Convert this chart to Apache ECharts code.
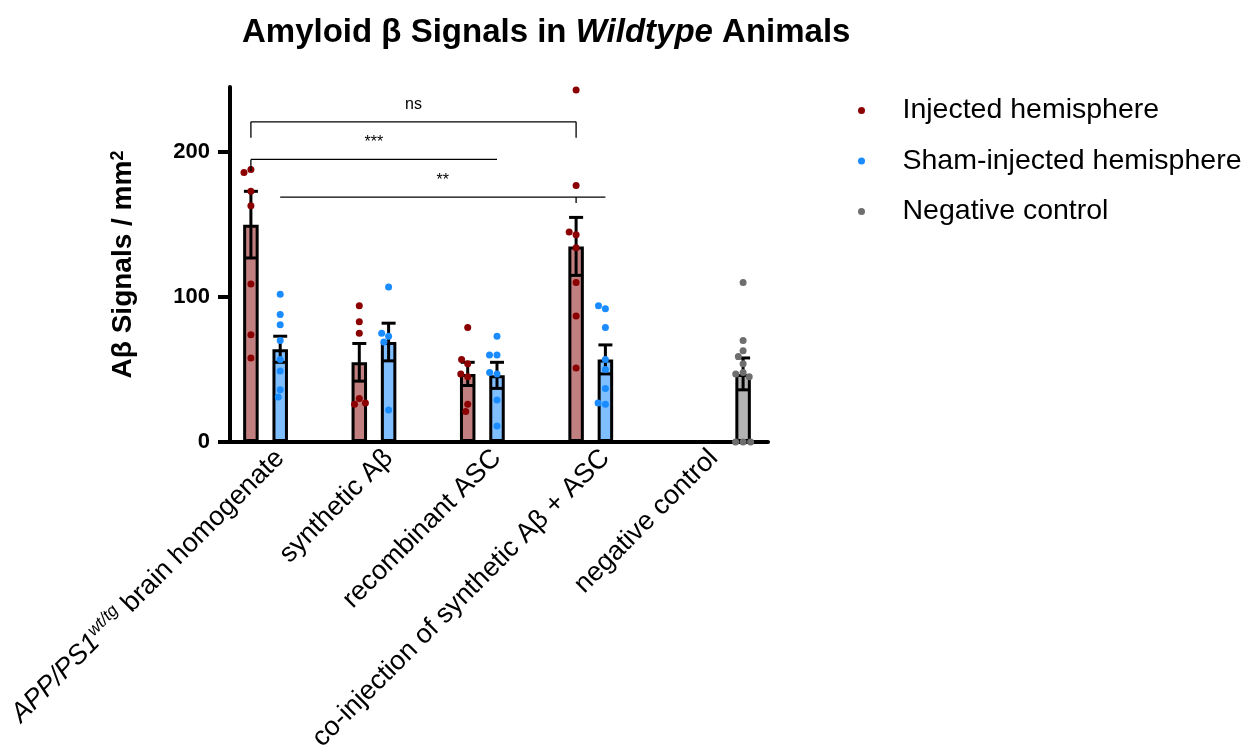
<!DOCTYPE html>
<html>
<head>
<meta charset="utf-8">
<script src="https://cdn.jsdelivr.net/npm/echarts@6.0.0/dist/echarts.min.js"></script>
<style>
    html, body { margin: 0; padding: 0; background: #fff; }
    #chart { width: 1252px; height: 753px; }
</style>
</head>
<body>
<div id="chart"></div>
<script>
// 组别（x轴）
const groups = ['APP/PS1 brain homogenate', 'synthetic Aβ', 'recombinant ASC', 'co-injection of synthetic Aβ + ASC', 'negative control'];
const seriesNames = ['Injected hemisphere', 'Sham-injected hemisphere', 'Negative control'];

// 均值 / SEM
const injectedMean = [150, 55, 47, 135, null];
const injectedSem = [23, 13, 8, 20, null];
const shamMean = [64, 69, 46, 57, null];
const shamSem = [9, 13, 9, 10, null];
const negMean = [null, null, null, null, 47];
const negSem = [null, null, null, null, 11];

// 单个动物的点
const injectedPts = [
    [188, 186, 173, 163, 109, 74, 58],
    [94, 83, 75, 30, 26, 27],
    [79, 54, 57, 45, 47, 26, 21],
    [243, 177, 143, 145, 134, 110, 87, 51],
    []
];
const shamPts = [
    [102, 88, 81, 70, 57, 49, 36, 31],
    [107, 73, 75, 69, 22],
    [73, 60, 60, 47, 48, 29, 11],
    [92, 94, 79, 57, 50, 37, 26, 27],
    []
];
const negPts = [[], [], [], [], [110, 70, 63, 59, 54, 48, 47, 45, 0, 0, 0]];

// y轴
const yMax = 245;
const yTicks = [0, 100, 200];

// 显著性标注: 槽位 -1=injected, 0=sham, 1=negative
const bracketLabel = ['ns', '***', '**'];
const bracketY = [221, 195, 169];
const bracketFrom = [[0, -1], [0, -1], [0, 0]];
const bracketTo = [[3, -1], [2, 0], [3, 0]];
const bracketTicks = [[[0, -1], [3, -1]], [[0, -1]], [[3, -1]]];
const bracketTickEnd = [210, 187, 165];

const FONT = '"Liberation Sans", Arial, sans-serif';
const GRID_LEFT = 226, GRID_W = 542, GRID_TOP = 87, GRID_H = 355;
const SLOT = 29.3;
const fills = ['#c27f7f', '#80bfff', '#b3b3b3'];
const dots = ['#8b0000', '#1a8cff', '#6e6e6e'];

let chart = echarts.init(document.getElementById('chart'));

function toPoints(arr) {
    let pts = [];
    arr.forEach(function (vals, i) {
        vals.forEach(function (v) { pts.push([i, v]); });
    });
    return pts;
}

function toErr(mean, sem) {
    let out = [];
    mean.forEach(function (m, i) {
        if (m !== null) out.push([i, m, sem[i]]);
    });
    return out;
}

function renderErrorBar(params, api) {
    const x = api.value(0);
    const m = api.value(1), e = api.value(2);
    const hi = api.coord([x, m + e]);
    const lo = api.coord([x, m - e]);
    const half = 7;
    const st = { stroke: '#000', lineWidth: 3 };
    return {
        type: 'group',
        children: [
            { type: 'line', shape: { x1: hi[0], y1: hi[1], x2: lo[0], y2: lo[1] }, style: st },
            { type: 'line', shape: { x1: hi[0] - half, y1: hi[1], x2: hi[0] + half, y2: hi[1] }, style: st },
            { type: 'line', shape: { x1: lo[0] - half, y1: lo[1], x2: lo[0] + half, y2: lo[1] }, style: st }
        ]
    };
}

function renderBracket(params, api) {
    const i = params.dataIndex;
    const y = bracketY[i];
    function px(ref, v) {
        let p = api.coord([ref[0], v]);
        return [p[0] + ref[1] * SLOT, p[1]];
    }
    const a = px(bracketFrom[i], y);
    const b = px(bracketTo[i], y);
    const st = { stroke: '#000', lineWidth: 1.3 };
    let children = [
        { type: 'line', shape: { x1: a[0], y1: a[1], x2: b[0], y2: b[1] }, style: st }
    ];
    bracketTicks[i].forEach(function (ref) {
        const t0 = px(ref, y);
        const t1 = px(ref, bracketTickEnd[i]);
        children.push({ type: 'line', shape: { x1: t0[0], y1: t0[1], x2: t1[0], y2: t1[1] }, style: st });
    });
    children.push({
        type: 'text',
        style: {
            x: (a[0] + b[0]) / 2, y: a[1] - 9,
            text: bracketLabel[i], fill: '#000',
            fontSize: 16, fontFamily: FONT,
            align: 'center', verticalAlign: 'bottom'
        }
    });
    return { type: 'group', children: children };
}

let grids = [], xAxes = [], yAxes = [];
for (let k = 0; k < 3; k++) {
    const visible = (k === 1);
    grids.push({
        left: GRID_LEFT + (k - 1) * SLOT, top: GRID_TOP,
        width: GRID_W, height: GRID_H,
        containLabel: false, outerBoundsMode: 'none'
    });
    xAxes.push({
        type: 'category', gridIndex: k, data: groups,
        show: visible,
        jitter: 16, jitterOverlap: false, jitterMargin: 0.5,
        axisLine: { lineStyle: { color: '#000', width: 4 } },
        axisTick: { show: false },
        axisLabel: {
            rotate: 45, margin: 12, color: '#000',
            fontFamily: FONT, fontSize: 27,
            formatter: function (value, index) {
                if (index === 0) return '{i|APP/PS1}{s|wt/tg}{n| brain homogenate}';
                return '{n|' + value + '}';
            },
            rich: {
                n: { fontSize: 27, fontFamily: FONT, color: '#000', lineHeight: 32 },
                i: { fontSize: 27, fontFamily: FONT, color: '#000', fontStyle: 'italic', lineHeight: 32 },
                s: { fontSize: 17, fontFamily: FONT, color: '#000', fontStyle: 'italic', verticalAlign: 'top', lineHeight: 18 }
            }
        }
    });
    yAxes.push({
        type: 'value', gridIndex: k, min: 0, max: yMax,
        show: visible, offset: -4,
        splitLine: { show: false },
        axisLine: { show: true, lineStyle: { color: '#000', width: 4 } },
        axisTick: { show: true, length: 12, customValues: yTicks, lineStyle: { color: '#000', width: 4 } },
        axisLabel: { customValues: yTicks, margin: 20, color: '#000', fontFamily: FONT, fontSize: 22, fontWeight: 'bold' },
        name: visible ? '{b|Aβ Signals / mm}{p|2}' : '',
        nameLocation: 'middle', nameGap: 93,
        nameTextStyle: {
            rich: {
                b: { fontSize: 28, fontWeight: 'bold', fontFamily: FONT, color: '#000' },
                p: { fontSize: 18, fontWeight: 'bold', fontFamily: FONT, color: '#000', verticalAlign: 'top', lineHeight: 18 }
            }
        }
    });
}

const means = [injectedMean, shamMean, negMean];
const sems = [injectedSem, shamSem, negSem];
const pts = [injectedPts, shamPts, negPts];

let series = [];
for (let k = 0; k < 3; k++) {
    series.push({
        name: seriesNames[k] + ' mean', type: 'bar',
        xAxisIndex: k, yAxisIndex: k,
        data: means[k], barWidth: 15.5, z: 1,
        itemStyle: { color: fills[k], borderColor: '#000', borderWidth: 3 }
    });
    series.push({
        name: seriesNames[k] + ' sem', type: 'custom',
        xAxisIndex: k, yAxisIndex: k, z: 3,
        data: toErr(means[k], sems[k]),
        renderItem: renderErrorBar
    });
    series.push({
        name: seriesNames[k], type: 'scatter',
        xAxisIndex: k, yAxisIndex: k, z: 4,
        symbolSize: 7, itemStyle: { color: dots[k], opacity: 1 },
        data: toPoints(pts[k])
    });
}
series.push({
    name: 'brackets', type: 'custom',
    xAxisIndex: 1, yAxisIndex: 1, z: 5,
    data: bracketY.map(function (y, i) { return [bracketFrom[i][0], y]; }),
    renderItem: renderBracket
});

let option = {
    animation: false,
    backgroundColor: '#fff',
    title: {
        text: '{b|Amyloid β Signals in }{bi|Wildtype}{b| Animals}',
        left: 237, top: 11,
        textStyle: {
            rich: {
                b: { fontSize: 33, fontWeight: 'bold', fontFamily: FONT, color: '#000' },
                bi: { fontSize: 33, fontWeight: 'bold', fontStyle: 'italic', fontFamily: FONT, color: '#000' }
            }
        }
    },
    legend: {
        data: seriesNames, orient: 'vertical',
        left: 853, top: 91, itemGap: 21.5,
        icon: 'circle', itemWidth: 14, itemHeight: 7,
        textStyle: { fontSize: 28.5, fontFamily: FONT, color: '#000', padding: [0, 0, 0, 29] }
    },
    grid: grids,
    xAxis: xAxes,
    yAxis: yAxes,
    series: series
};

chart.setOption(option);
</script>
</body>
</html>
